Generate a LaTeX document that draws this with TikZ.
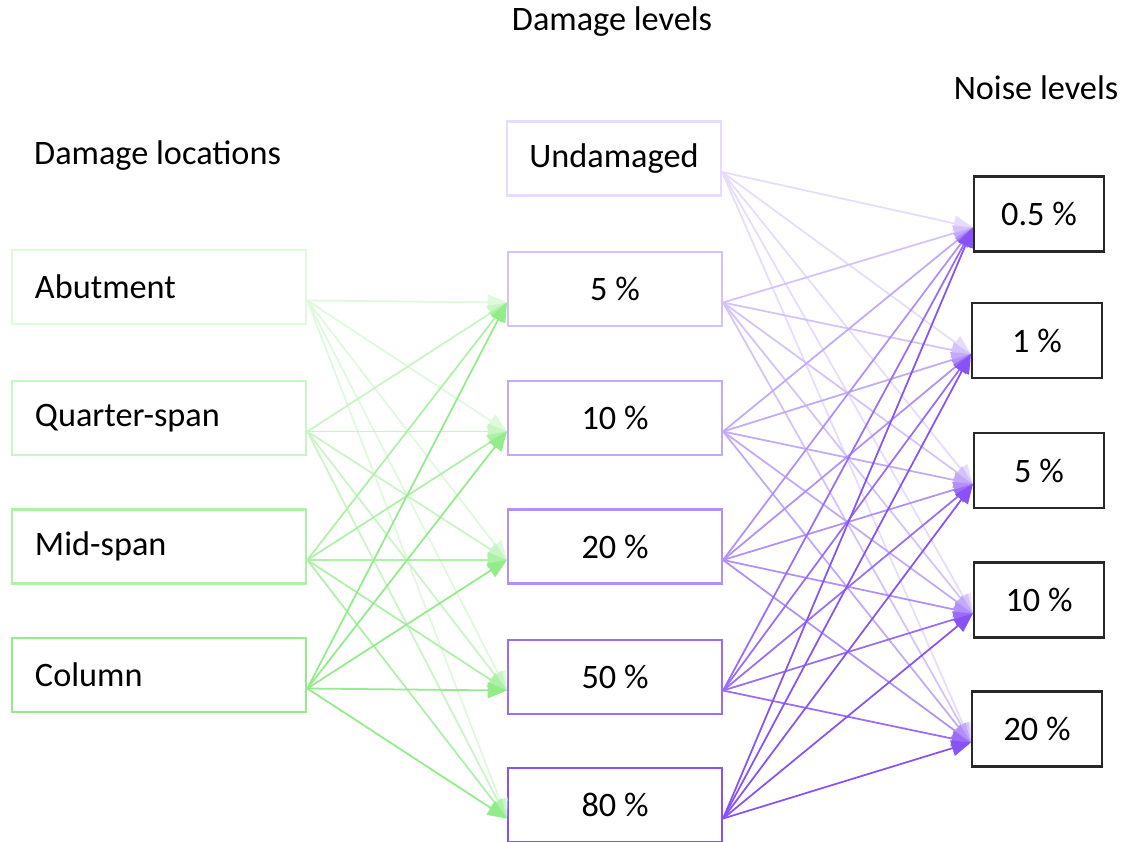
\documentclass[tikz,border=0pt]{standalone}
\usepackage{fontspec}
\setmainfont{Carlito}
\usepackage{tikz}
\usetikzlibrary{arrows.meta}
\definecolor{loccol}{RGB}{146,236,138}
\definecolor{lvlcol}{RGB}{136,82,246}
\definecolor{noisecol}{RGB}{40,40,40}

\begin{document}
\begin{tikzpicture}[
  font=\fontsize{19.5}{23}\selectfont,
  loc/.style={draw=loccol!#1, line width=1.5pt, minimum width=5.88cm,
              minimum height=1.48cm, text width=4.96cm, inner xsep=0.46cm,
              align=left},
  lvl/.style={draw=lvlcol!#1, line width=1.2pt, minimum width=4.28cm,
              minimum height=1.48cm, align=center},
  noise/.style={draw=noisecol, line width=1.2pt, minimum width=2.6cm,
                minimum height=1.5cm, align=center},
  locarrow/.style={draw=loccol!#1, line width=1pt,
                   -{Triangle[length=11pt,width=9pt]}},
  lvlarrow/.style={draw=lvlcol!#1, line width=1pt,
                   -{Triangle[length=11pt,width=9pt]}}
]
  \useasboundingbox (0,0) rectangle (22.52,-16.82);
  \clip (0,0) rectangle (22.52,-16.82);

  \node (ttlloc) [anchor=west] at (0.56,-3.12) {Damage locations};
  \node (ttllvl) at (12.24,-0.44) {Damage levels};
  \node (ttlnoise) at (20.72,-1.76) {Noise levels};

  \node[loc=30] (abut) at (3.18,-5.74) {Abutment};
  \node[loc=50] (quarter) at (3.18,-8.36) {Quarter-span};
  \node[loc=75] (mid) at (3.18,-10.93) {Mid-span};
  \node[loc=100] (column) at (3.18,-13.50) {Column};

  \node[lvl=20] (l0) at (12.28,-3.17) {Undamaged};
  \node[lvl=35] (l5) at (12.30,-5.78) {5 \%};
  \node[lvl=50] (l10) at (12.30,-8.36) {10 \%};
  \node[lvl=65] (l20) at (12.30,-10.93) {20 \%};
  \node[lvl=85] (l50) at (12.30,-13.54) {50 \%};
  \node[lvl=100] (l80) at (12.30,-16.10) {80 \%};

  \node[noise] (n1) at (20.78,-4.28) {0.5 \%};
  \node[noise] (n2) at (20.74,-6.81) {1 \%};
  \node[noise] (n3) at (20.78,-9.41) {5 \%};
  \node[noise] (n4) at (20.78,-12.00) {10 \%};
  \node[noise] (n5) at (20.74,-14.58) {20 \%};

  % every location to every damaged level
  \foreach \a/\p in {abut/30, quarter/50, mid/75, column/100}
    \foreach \b in {l5, l10, l20, l50, l80}
      \draw[locarrow=\p] ([yshift=-0.27cm]\a.east) -- ([yshift=-0.27cm]\b.west);

  % every level to every noise level
  \foreach \a/\p in {l0/20, l5/35, l10/50, l20/65, l50/85, l80/100}
    \foreach \b in {n1, n2, n3, n4, n5}
      \draw[lvlarrow=\p] ([yshift=-0.27cm]\a.east) -- ([yshift=-0.27cm]\b.west);
\end{tikzpicture}
\end{document}
